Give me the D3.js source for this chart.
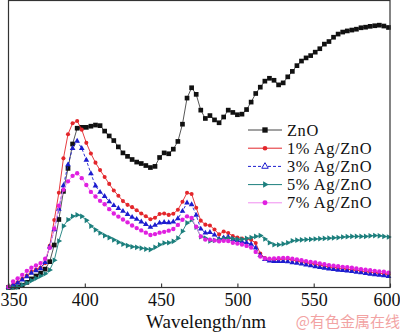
<!DOCTYPE html>
<html>
<head>
<meta charset="utf-8">
<script src="https://cdn.jsdelivr.net/npm/d3@7"></script>
<style>
body { margin: 0; background: #fff; }
svg { display: block; font-family: "Liberation Serif", "Times New Roman", serif; }
</style>
</head>
<body>
<div id="chart"></div>
<script>
// UV-vis absorbance (a.u.) sampled every 3 nm, 350-599 nm
var wavelengths = d3.range(350, 600, 3);

var zno = [0, 0.1, 0.2, 0.8, 1.8, 3, 4, 5, 6.4, 9, 14.8, 23.7, 33.5, 41.5, 50, 55.5, 55.8, 55.8, 56.2, 56.6,
  56.4, 54.5, 52.8, 51.2, 49, 46.9, 45.7, 44.6, 43.7, 43.2, 42.5, 41.8, 42.2, 45.3, 46.9, 46.6, 48.2, 50.9, 56.9, 66,
  69.6, 67.3, 61.8, 58.9, 59.9, 58.4, 57.4, 59.4, 61.8, 61, 60.2, 60.4, 62, 64.6, 67.6, 69.8, 71.9, 72.9, 72.2, 70.6,
  71.3, 73.4, 75.3, 77.3, 78.9, 80, 80.8, 82, 83.2, 84.8, 85.7, 87.2, 88.3, 89, 89.4, 89.7, 90, 90.5, 90.7, 91,
  91.2, 91.4, 91.1, 90.6];

var ag1 = [0.3, 1, 1.8, 3, 4.2, 5.5, 6.3, 7, 8.5, 14.5, 23.5, 33, 45, 53.4, 57.2, 58, 55, 50.4, 46.7, 43.5,
  40.9, 38.5, 36.1, 33.8, 32, 30.1, 28.8, 28, 26.9, 25.8, 24.8, 23.8, 24.3, 25.6, 25.8, 25.3, 25.7, 27.1, 29.9, 33,
  32.6, 27.8, 23.3, 21.9, 21.6, 20.2, 18.5, 19.5, 19, 17.9, 17.4, 17.1, 16.9, 16.6, 15.5, 11.8, 10.3, 9.9, 9.7, 9.8,
  9.9, 9.9, 9.6, 9.3, 9, 8.7, 8.4, 8.1, 7.8, 7.5, 7.2, 7, 6.8, 6.6, 6.4, 6.2, 6, 5.8, 5.5, 5.4,
  5.2, 5, 4.8, 4.6];

var ag3 = [0.2, 0.8, 1.6, 2.7, 3.8, 5, 5.9, 6.6, 8.8, 14.2, 20.2, 27.3, 35.5, 42.8, 48.5, 51, 48.5, 44.4, 39.7, 35.4,
  33.2, 31.8, 29.9, 28.6, 27.6, 26.6, 25.5, 24.5, 23.8, 22.9, 22, 21, 21.7, 22.5, 22.7, 22.6, 22.9, 24, 26.6, 29.5,
  28.9, 25.2, 20.4, 19, 19.2, 18.3, 16.9, 17.3, 17.6, 16.8, 16.4, 15.9, 15.6, 15.1, 13.8, 11.2, 9.8, 9.3, 9.1, 9.1,
  9.1, 9, 8.7, 8.5, 8.2, 7.9, 7.6, 7.3, 7, 6.8, 6.5, 6.3, 6.1, 6, 5.8, 5.6, 5.4, 5.2, 4.9, 4.7,
  4.5, 4.3, 4.1, 3.9];

var ag5 = [0, 0, 0.2, 0.9, 1.6, 2.4, 3.2, 4, 4.8, 6.1, 9.5, 16.2, 21.4, 23.6, 24.8, 25.3, 24.8, 23.4, 21.4, 20.1,
  19, 18.1, 17.4, 16.6, 15.8, 15.1, 14.6, 14.2, 14, 13.7, 13.4, 13.2, 14, 14.9, 15.5, 15.6, 16.1, 17.2, 19.6, 22.5,
  23.6, 21, 17.7, 17.2, 16.2, 16.4, 16.7, 17, 17.2, 17, 16.8, 16.8, 17.1, 17.4, 17.8, 18.1, 16.9, 15.6, 14.9, 14.9,
  15.2, 15.6, 16.3, 16.5, 16.6, 16.7, 16.8, 16.9, 17, 17.1, 17.2, 17.3, 17.4, 17.6, 17.7, 17.8, 17.8, 17.8, 17.8, 18,
  18.1, 18, 17.8, 17.6];

var ag7 = [0.2, 2.1, 3.2, 4.4, 5.8, 6.9, 7.7, 8.5, 10, 13.8, 20.5, 28.5, 34.1, 37, 38.9, 39.8, 38.1, 35.7, 33.3, 31.7,
  30.2, 29, 27.3, 25.8, 24.7, 23.7, 22.7, 21.6, 20.7, 19.9, 19.1, 18.3, 18.6, 19.1, 19.4, 19.8, 20.4, 21.8, 23.6, 24.8,
  24.2, 21.2, 17.8, 16.7, 16.7, 16.4, 16.1, 16.3, 16.2, 15.6, 15.3, 15, 14.5, 13.9, 12.4, 10.8, 10.1, 10, 10.1, 10.2,
  10.3, 10.3, 10, 9.8, 9.5, 9.2, 8.9, 8.7, 8.4, 8.1, 7.8, 7.6, 7.4, 7.2, 7.1, 6.9, 6.6, 6.4, 6.2, 6,
  5.8, 5.6, 5.5, 5.2];

var xTicks = [350, 400, 450, 500, 550, 600];
var seriesNames = ['ZnO', '1% Ag/ZnO', '3% Ag/ZnO', '5% Ag/ZnO', '7% Ag/ZnO'];

var w = 400, h = 333;
var plotLeft = 8.5, plotRight = 390, plotTop = 0.5, plotBottom = 287.5;

var x = d3.scaleLinear().domain([350, 600]).range([plotLeft, plotRight]);
var y = d3.scaleLinear().domain([0, 100]).range([plotBottom, plotTop]);

var styles = [
  {values: zno, color: '#111', line: '#444', symbol: d3.symbolSquare, size: 22, rotate: 0},
  {values: ag1, color: '#e3262b', line: '#e3262b', symbol: d3.symbolCircle, size: 13, rotate: 0},
  {values: ag3, color: '#1c1ccf', line: '#1c1ccf', symbol: d3.symbolTriangle, size: 14, rotate: 0, dash: '3,2'},
  {values: ag5, color: '#1c7f7d', line: '#1c7f7d', symbol: d3.symbolTriangle, size: 14, rotate: 90},
  {values: ag7, color: '#e020e0', line: '#f08cf0', symbol: d3.symbolCircle, size: 15, rotate: 0}
];

var svg = d3.select('#chart')
            .append('svg')
            .attr('width', w)
            .attr('height', h);

function drawSeries(g, s) {
  var line = d3.line()
    .x(function(d, i) { return x(wavelengths[i]); })
    .y(function(d) { return y(d); });
  g.append('path')
    .datum(s.values)
    .attr('d', line)
    .attr('fill', 'none')
    .attr('stroke', s.line)
    .attr('stroke-width', 0.9)
    .attr('stroke-dasharray', s.dash || null);
  g.selectAll(null)
    .data(s.values)
    .enter()
    .append('path')
    .attr('transform', function(d, i) {
      return 'translate(' + x(wavelengths[i]) + ',' + y(d) + ') rotate(' + s.rotate + ')';
    })
    .attr('d', d3.symbol().type(s.symbol).size(s.size))
    .attr('fill', s.color);
}

var plot = svg.append('g');
styles.forEach(function(s) {
  drawSeries(plot.append('g'), s);
});

// frame
svg.append('rect')
  .attr('x', plotLeft)
  .attr('y', plotTop)
  .attr('width', plotRight - plotLeft)
  .attr('height', plotBottom - plotTop)
  .attr('fill', 'none')
  .attr('stroke', '#333')
  .attr('stroke-width', 1.2);

var xAxis = svg.append('g')
  .attr('transform', 'translate(0,' + plotBottom + ')')
  .call(d3.axisBottom(x).tickValues(xTicks).tickSizeInner(-4).tickSizeOuter(0).tickPadding(6));
xAxis.select('.domain').remove();
xAxis.selectAll('line').attr('stroke', '#333').attr('stroke-width', 1.1);
xAxis.selectAll('text')
  .attr('font-family', '"Liberation Serif", serif')
  .attr('font-size', '18px')
  .attr('fill', '#111');
// keep the end labels inside the page
xAxis.selectAll('.tick').filter(function(d) { return d === 350; }).select('text')
  .attr('text-anchor', 'start').attr('x', -8.5);
xAxis.selectAll('.tick').filter(function(d) { return d === 600; }).select('text')
  .attr('text-anchor', 'end').attr('x', 10);

svg.append('text')
  .attr('x', 206)
  .attr('y', 328)
  .attr('text-anchor', 'middle')
  .attr('font-size', '19px')
  .attr('fill', '#111')
  .text('Wavelength/nm');

svg.append('text')
  .attr('x', 400)
  .attr('y', 327)
  .attr('text-anchor', 'end')
  .attr('font-family', '"Noto Sans CJK SC", sans-serif')
  .attr('font-size', '15px')
  .attr('fill', '#f2a3a3')
  .text('@有色金属在线');

// legend
var legend = svg.append('g');
styles.forEach(function(s, i) {
  var cy = 130 + i * 18.2;
  legend.append('line')
    .attr('x1', 248).attr('x2', 282)
    .attr('y1', cy).attr('y2', cy)
    .attr('stroke', s.line)
    .attr('stroke-width', 1)
    .attr('stroke-dasharray', s.dash || null);
  legend.append('path')
    .attr('transform', 'translate(265,' + cy + ') rotate(' + s.rotate + ')')
    .attr('d', d3.symbol().type(s.symbol).size(s.size * 1.3))
    .attr('fill', i === 2 ? '#fff' : s.color)
    .attr('stroke', i === 2 ? s.color : 'none');
  legend.append('text')
    .attr('x', 287)
    .attr('y', cy + 5.5)
    .attr('font-size', '16.4px')
    .attr('letter-spacing', '0.6px')
    .attr('fill', '#111')
    .text(seriesNames[i]);
});
</script>
</body>
</html>
